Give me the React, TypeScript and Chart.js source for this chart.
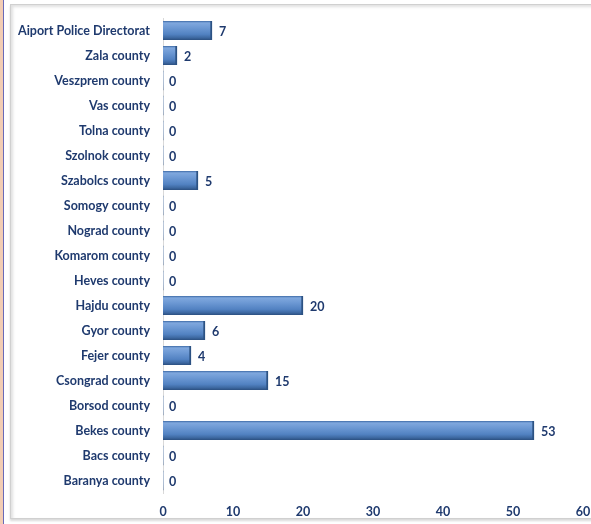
import React, { useEffect, useRef } from "react";
import { Chart, registerables } from "chart.js";

Chart.register(...registerables);

const categories = [
  "Aiport Police Directorat",
  "Zala county",
  "Veszprem county",
  "Vas county",
  "Tolna county",
  "Szolnok county",
  "Szabolcs county",
  "Somogy county",
  "Nograd county",
  "Komarom county",
  "Heves county",
  "Hajdu county",
  "Gyor county",
  "Fejer county",
  "Csongrad county",
  "Borsod county",
  "Bekes county",
  "Bacs county",
  "Baranya county",
];
const values = [7, 2, 0, 0, 0, 0, 5, 0, 0, 0, 0, 20, 6, 4, 15, 0, 53, 0, 0];
const xMin = 0;
const xMax = 60;
const xStep = 10;

const NAVY = "#1f3a6e";
const FONT = "Lato, 'Open Sans', sans-serif";
const BAR_H = 19;

const valueLabels = {
  id: "valueLabels",
  afterDatasetsDraw(chart: any) {
    const ctx = chart.ctx;
    const meta = chart.getDatasetMeta(0);
    ctx.save();
    ctx.font = `bold 12.5px ${FONT}`;
    ctx.fillStyle = NAVY;
    ctx.textAlign = "left";
    ctx.textBaseline = "middle";
    meta.data.forEach((bar: any, i: number) => {
      const v = values[i];
      const x = v === 0 ? bar.x + 6 : bar.x + 7;
      ctx.fillText(String(v), x, bar.y + 1);
    });
    ctx.restore();
  },
};

export default function App() {
  const ref = useRef<HTMLCanvasElement | null>(null);
  useEffect(() => {
    document.body.style.margin = "0";
    const canvas = ref.current!;
    const chart = new Chart(canvas, {
      type: "bar",
      data: {
        labels: categories,
        datasets: [
          {
            data: values,
            barThickness: BAR_H,
            borderWidth: { top: 0, bottom: 0, left: 0, right: 2 } as any,
            borderColor: "#2c5283",
            borderSkipped: "left",
            backgroundColor: (c: any) => {
              const ch = c.chart;
              const ys = ch.scales && ch.scales.y;
              if (!ys || c.dataIndex === undefined) return "#4f81bd";
              const yc = ys.getPixelForValue(c.dataIndex);
              if (!isFinite(yc)) return "#4f81bd";
              const g = ch.ctx.createLinearGradient(0, yc - BAR_H / 2, 0, yc + BAR_H / 2);
              g.addColorStop(0, "#3d6aa6");
              g.addColorStop(0.1, "#80a8de");
              g.addColorStop(0.35, "#6d99d4");
              g.addColorStop(0.7, "#5282c2");
              g.addColorStop(0.88, "#3d68a1");
              g.addColorStop(1, "#2b4f80");
              return g;
            },
          },
        ],
      },
      options: {
        indexAxis: "y",
        animation: false,
        responsive: false,
        maintainAspectRatio: false,
        layout: { padding: { top: 18, right: 8, bottom: 0, left: 0 } },
        plugins: {
          legend: { display: false },
          tooltip: { enabled: false },
        },
        scales: {
          x: {
            min: xMin,
            max: xMax,
            grid: { display: false, drawTicks: false },
            border: { display: false },
            ticks: {
              stepSize: xStep,
              padding: 11,
              color: NAVY,
              font: { family: FONT, size: 12.5, weight: "bold" },
            },
            afterFit: (s: any) => {
              s.height = 31;
              s.paddingRight = 0;
              s.paddingLeft = 0;
            },
          },
          y: {
            grid: { display: true, color: "rgba(0,0,0,0)", drawTicks: false },
            border: { display: true, color: "#d9d9d9", width: 1 },
            ticks: {
              padding: 13,
              color: NAVY,
              font: { family: FONT, size: 12.5, weight: "bold" },
            },
            afterFit: (s: any) => {
              s.width = 163;
              s.paddingTop = 0;
              s.paddingBottom = 0;
            },
          },
        },
      },
      plugins: [valueLabels],
    });
    return () => chart.destroy();
  }, []);

  return (
    <div style={{ position: "absolute", left: 0, top: 0, width: 591, height: 524, background: "#fff", overflow: "hidden" }}>
      <div style={{ position: "absolute", left: 0, top: 0, width: 3, height: 524, background: "#f3cdb4", borderRight: "1px solid #6a6ab8" }} />
      <div
        style={{
          position: "absolute",
          left: 10,
          top: 4,
          width: 590,
          height: 515,
          border: "1px solid #d0d0d0",
          boxShadow: "inset 2px 2px 3px rgba(0,0,0,0.12), 0 2px 2px rgba(0,0,0,0.15)",
          boxSizing: "border-box",
        }}
      />
      <canvas ref={ref} width={591} height={524} style={{ position: "absolute", left: 0, top: 0, width: 591, height: 524 }} />
    </div>
  );
}
